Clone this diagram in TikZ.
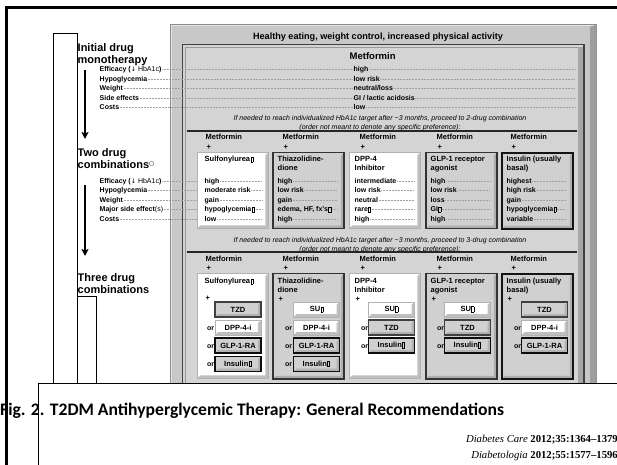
\documentclass[tikz,border=0pt]{standalone}
\usepackage{fontspec}
\setmainfont{Liberation Sans}
\newfontfamily\capfont{Carlito}
\newfontfamily\reffont{Liberation Serif}
\newfontfamily\symfont{DejaVu Sans}
\usetikzlibrary{arrows.meta}
\newcommand\fsz[1]{\fontsize{#1bp}{#1bp}\selectfont}
% placeholder marks printed after some drug names
\newcommand\tmark{\kern0.4bp{\fboxsep=0pt\fboxrule=0.35bp\fbox{\rule{1.8bp}{0pt}\rule{0pt}{4.8bp}}}}
\newcommand\bmark{\kern0.4bp{\fboxsep=0pt\fboxrule=0.9bp\fbox{\rule{1.3bp}{0pt}\rule{0pt}{4.4bp}}}}
\definecolor{framegray}{HTML}{C8C8C8}
\definecolor{panelgray}{HTML}{D4D4D4}
\definecolor{boxgray}{HTML}{D0D0D0}
\definecolor{dotgray}{HTML}{A0A0A0}
\begin{document}
\begin{tikzpicture}[x=1bp,y=-1bp,
  lab/.style={font=\fsz{7}\bfseries, anchor=west, inner xsep=0.5bp, inner ysep=0pt, text height=5bp, text depth=0pt},
  hdr/.style={font=\fsz{7.5}\bfseries, anchor=west, inner xsep=0.5bp, inner ysep=0pt, text height=5.4bp, text depth=0pt},
  big/.style={font=\fsz{11}\bfseries, anchor=west, inner xsep=0.5bp, inner ysep=0pt, text height=7.9bp, text depth=0pt},
  note/.style={font=\fsz{7}\itshape, inner sep=0pt, text height=5bp, text depth=0pt},
  dotrule/.style={dash pattern=on 0.5bp off 1bp, line width=0.5bp, dotgray},
  bevelpic/.style={path picture={\fill[black!#1]
      (path picture bounding box.north east) -- (path picture bounding box.south east)
      -- (path picture bounding box.south west) -- ([shift={(3bp,3bp)}]path picture bounding box.south west)
      -- ([shift={(-3bp,3bp)}]path picture bounding box.south east)
      -- ([shift={(-3bp,-3bp)}]path picture bounding box.north east) -- cycle;}},
  wbox/.style={rectangle, inner sep=0pt, fill=white, draw=black!30, line width=0.6bp, bevelpic=25, anchor=north west},
  gbox/.style={rectangle, inner sep=0pt, fill=boxgray, draw=black!80, line width=1.5bp, bevelpic=32, anchor=north west},
  kbox/.style={gbox, draw=black!92, line width=1.8bp},
  optw/.style={rectangle, inner sep=0pt, minimum width=46bp, minimum height=15bp, fill=white, draw=black!30, line width=0.6bp, bevelpic=25, font=\fsz{7.5}\bfseries},
  optg/.style={optw, fill=boxgray, draw=black!75, line width=1.3bp, bevelpic=30},
  optk/.style={optw, fill=boxgray, draw=black!95, line width=1.7bp, bevelpic=30},
  orl/.style={font=\fsz{7}\bfseries, anchor=west, inner sep=0pt, text height=5bp, text depth=0pt},
  flowarrow/.style={line width=1.7bp, -{Stealth[length=7bp,width=7bp,inset=1.5bp]}}
]
\useasboundingbox (0,0) rectangle (617,465);
\clip (0,0) rectangle (617,465);

% empty rules on the left
\draw[line width=0.7bp] (53,400) -- (53,33) -- (77,33) -- (77,400);
\draw[line width=0.7bp] (77,400) -- (77,296) -- (96,296) -- (96,400);

% outer bevelled frame
\fill[framegray] (170,24) rectangle (597,400);
\draw[black!45, line width=0.6bp] (170.3,400) -- (170.3,24.3) -- (596.7,24.3) -- (596.7,400);
\draw[white!90!black, line width=0.8bp] (171.5,400) -- (171.5,25.5) -- (595,25.5);
\fill[black!38] (590,27) -- (596.4,24.6) -- (596.4,400) -- (590,400) -- cycle;
\fill[black!22] (587,30) rectangle (590,400);

% inner panel
\fill[panelgray] (182,44) rectangle (584,400);
\fill[black!35] (578,47) rectangle (584,400);
\draw[black!75, line width=1.1bp] (182.5,400) -- (182.5,44.5) -- (584,44.5) -- (584,400);
\draw[black!40, line width=0.5bp] (185,400) -- (185,47) -- (578,47);

% title
\node[font=\fsz{9.1}\bfseries, inner sep=0pt, text height=6.6bp, text depth=0pt] (title) at (378,36) {Healthy eating, weight control, increased physical activity};

% ---- initial monotherapy ----
\node[big] (init1) at (77,48) {Initial drug};
\node[big] (init2) at (77,59.5) {monotherapy};
\coordinate (a1s) at (85,70);
\coordinate (a1e) at (85,139);
\draw[flowarrow] (a1s) -- (a1e);

\node[lab] (e1) at (99,69) {Efficacy (\textmd{{\symfont\fsz{6.3}↓} HbA1c})};
\node[lab] (e2) at (99,79) {Hypoglycemia};
\node[lab] (e3) at (99,88.5) {Weight};
\node[lab] (e4) at (99,98) {Side effects};
\node[lab] (e5) at (99,107.5) {Costs};

\node[font=\fsz{9.5}\bfseries, anchor=west, inner xsep=0.5bp, inner ysep=0pt, text height=6.8bp, text depth=0pt] (met0) at (349,56) {Metformin};
\node[lab] (m1) at (353,69) {high};
\node[lab] (m2) at (353,79) {low risk};
\node[lab] (m3) at (353,88.5) {neutral/loss};
\node[lab] (m4) at (353,98) {GI / lactic acidosis};
\node[lab] (m5) at (353,107.5) {low};
\coordinate (rowend) at (575,0);
\foreach \i in {1,...,5}{
  \draw[dotrule] (e\i.east) -- (m\i.west);
  \draw[dotrule] (m\i.east) -- (m\i.east -| rowend);
}

\node[note] (n1a) at (380,118) {If needed to reach individualized HbA1c target after \textasciitilde3 months, proceed to 2-drug combination};
\node[note] (n1b) at (380,127) {(order not meant to denote any specific preference):};
\draw[black!85, line width=1.2bp] (187,131) -- (577,131);

% ---- two-drug combinations ----
\node[big] (two1) at (77,153) {Two drug};
\node[big] (two2) at (77,164.5) {combinations\raisebox{2.5bp}{\mdseries\symfont\fsz{6}○}};
\coordinate (a2s) at (85,185);
\coordinate (a2e) at (85,256);
\draw[flowarrow] (a2s) -- (a2e);

\foreach \x [count=\c] in {205,282,359,436,510}{
  \node[hdr] (h2\c) at (\x,137) {Metformin};
  \node[hdr] (p2\c) at (\x+1,146.5) {+};
  \node[hdr] (h3\c) at (\x,259) {Metformin};
  \node[hdr] (p3\c) at (\x+1,268) {+};
}

\node[wbox, minimum width=71bp, minimum height=76bp] (b21) at (197,152) {};
\node[gbox, minimum width=71bp, minimum height=76bp] (b22) at (272,152) {};
\node[wbox, minimum width=71bp, minimum height=76bp] (b23) at (349,152) {};
\node[gbox, minimum width=71bp, minimum height=76bp] (b24) at (425,152) {};
\node[kbox, minimum width=71bp, minimum height=76bp] (b25) at (501,152) {};

\node[lab] (f1) at (99,181) {Efficacy (\textmd{{\symfont\fsz{6.3}↓} HbA1c})};
\node[lab] (f2) at (99,190.5) {Hypoglycemia};
\node[lab] (f3) at (99,200) {Weight};
\node[lab] (f4) at (99,209.5) {Major side effect\textmd{(s)}};
\node[lab] (f5) at (99,219) {Costs};
\foreach \i in {1,...,5}{\draw[dotrule] (f\i.east) -- (f\i.east -| b21.west);}

\node[hdr] (t21) at (204,159) {Sulfonylurea\tmark};
\node[hdr] (t22) at (277,159) {Thiazolidine-};
\node[hdr] (t22b) at (277,168) {dione};
\node[hdr] (t23) at (354,159) {DPP-4};
\node[hdr] (t23b) at (354,168) {Inhibitor};
\node[hdr] (t24) at (430,159) {GLP-1 receptor};
\node[hdr] (t24b) at (430,168) {agonist};
\node[hdr] (t25) at (506,159) {Insulin (usually};
\node[hdr] (t25b) at (506,168) {basal)};

\coordinate (r1) at (262,0);
\coordinate (r2) at (337,0);
\coordinate (r3) at (414,0);
\coordinate (r4) at (490,0);
\coordinate (r5) at (566,0);

\node[lab] (v11) at (204,181) {high};
\node[lab] (v12) at (204,190.5) {moderate risk};
\node[lab] (v13) at (204,200) {gain};
\node[lab] (v14) at (204,209.5) {hypoglycemia\bmark};
\node[lab] (v15) at (204,219) {low};
\node[lab] (v21) at (277,181) {high};
\node[lab] (v22) at (277,190.5) {low risk};
\node[lab] (v23) at (277,200) {gain};
\node[lab] (v24) at (277,209.5) {edema, HF, fx's\bmark};
\node[lab] (v25) at (277,219) {high};
\node[lab] (v31) at (354,181) {intermediate};
\node[lab] (v32) at (354,190.5) {low risk};
\node[lab] (v33) at (354,200) {neutral};
\node[lab] (v34) at (354,209.5) {rare\tmark};
\node[lab] (v35) at (354,219) {high};
\node[lab] (v41) at (430,181) {high};
\node[lab] (v42) at (430,190.5) {low risk};
\node[lab] (v43) at (430,200) {loss};
\node[lab] (v44) at (430,209.5) {GI\tmark};
\node[lab] (v45) at (430,219) {high};
\node[lab] (v51) at (506,181) {highest};
\node[lab] (v52) at (506,190.5) {high risk};
\node[lab] (v53) at (506,200) {gain};
\node[lab] (v54) at (506,209.5) {hypoglycemia\tmark};
\node[lab] (v55) at (506,219) {variable};
\foreach \c in {1,...,5}{
  \foreach \i in {1,...,5}{\draw[dotrule] (v\c\i.east) -- (v\c\i.east -| r\c);}
}

\node[note] (n2a) at (380,240) {If needed to reach individualized HbA1c target after \textasciitilde3 months, proceed to 3-drug combination};
\node[note] (n2b) at (380,249) {(order not meant to denote any specific preference):};
\draw[black!85, line width=1.2bp] (187,252) -- (577,252);

% ---- three-drug combinations ----
\node[big] (three1) at (77,278) {Three drug};
\node[big] (three2) at (77,289.5) {combinations};

\node[wbox, minimum width=71bp, minimum height=105bp] (b31) at (197,273) {};
\node[gbox, minimum width=71bp, minimum height=105bp] (b32) at (272,273) {};
\node[wbox, minimum width=71bp, minimum height=105bp] (b33) at (349,273) {};
\node[gbox, minimum width=71bp, minimum height=105bp] (b34) at (425,273) {};
\node[kbox, minimum width=71bp, minimum height=105bp] (b35) at (501,273) {};

\node[hdr] (s31) at (204,281) {Sulfonylurea\tmark};
\node[hdr] (s32) at (277,281) {Thiazolidine-};
\node[hdr] (s32b) at (277,290) {dione};
\node[hdr] (s33) at (354,281) {DPP-4};
\node[hdr] (s33b) at (354,290) {Inhibitor};
\node[hdr] (s34) at (430,281) {GLP-1 receptor};
\node[hdr] (s34b) at (430,290) {agonist};
\node[hdr] (s35) at (506,281) {Insulin (usually};
\node[hdr] (s35b) at (506,290) {basal)};
\node[hdr] (q31) at (205,297.5) {+};
\node[hdr] (q32) at (278,299) {+};
\node[hdr] (q33) at (355,299) {+};
\node[hdr] (q34) at (431,299) {+};
\node[hdr] (q35) at (507,299) {+};

% add-on options
\node[optg] (o11) at (238,309.5) {TZD};
\node[optw] (o12) at (238,327.5) {DPP-4-i};
\node[optk] (o13) at (238,345.5) {GLP-1-RA};
\node[optk] (o14) at (238,364) {Insulin\bmark};
\node[optw] (o21) at (316.5,309.5) {SU\tmark};
\node[optw] (o22) at (316.5,327.5) {DPP-4-i};
\node[optk] (o23) at (316.5,345.5) {GLP-1-RA};
\node[optk] (o24) at (316.5,364) {Insulin\bmark};
\node[optw] (o31) at (391.5,309.5) {SU\bmark};
\node[optg] (o32) at (391.5,327.5) {TZD};
\node[optk] (o33) at (391.5,345.5) {Insulin\bmark};
\node[optw] (o41) at (467.5,309.5) {SU\bmark};
\node[optg] (o42) at (467.5,327.5) {TZD};
\node[optk] (o43) at (467.5,345.5) {Insulin\bmark};
\node[optg] (o51) at (544.5,309.5) {TZD};
\node[optw] (o52) at (544.5,327.5) {DPP-4-i};
\node[optk] (o53) at (544.5,345.5) {GLP-1-RA};

\foreach \n/\x/\y in {a/207/327.5, b/207/345.5, c/207/364, d/285/327.5, e/285/345.5, f/285/364,
    g/361/327.5, h/361/345.5, i/437/327.5, j/437/345.5, k/514/327.5, l/514/345.5}{
  \node[orl] (or\n) at (\x,\y) {or};
}

% caption panel
\fill[white] (38,383) rectangle (630,480);
\draw[line width=0.7bp] (38,480) -- (38,383) -- (630,383);
\node[font=\capfont\bfseries\fsz{17.6}, anchor=west, inner sep=0pt] (caption) at (0,411) {Fig. 2. T2DM Antihyperglycemic Therapy: General Recommendations};
\node[font=\reffont\fsz{10.7}, anchor=east, inner sep=0pt] (ref1) at (618,440) {\textit{Diabetes Care} \textbf{2012;35:1364–1379}};
\node[font=\reffont\fsz{10.7}, anchor=east, inner sep=0pt] (ref2) at (618,456) {\textit{Diabetologia} \textbf{2012;55:1577–1596}};

% slide border
\draw[line width=3bp, line join=miter] (6.5,470) -- (6.5,8) -- (625,8);
\end{tikzpicture}
\end{document}
